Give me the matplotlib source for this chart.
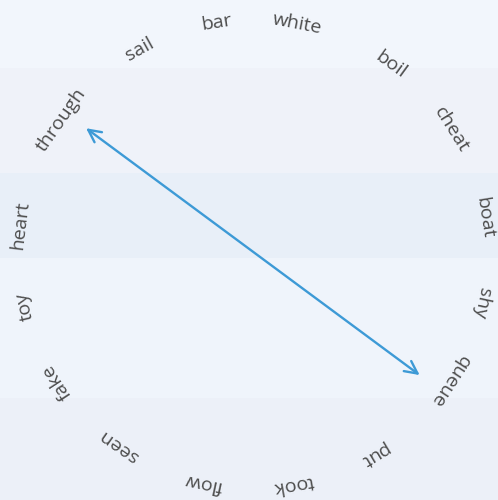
import numpy as np
import matplotlib
matplotlib.use('Agg')
import matplotlib.pyplot as plt
from matplotlib.patches import Rectangle

# words around the circle, clockwise from the top
words = ['bar', 'white', 'boil', 'cheat', 'boat', 'shy', 'queue', 'put',
         'took', 'flow', 'seen', 'fake', 'toy', 'heart', 'through', 'sail']
# angle of each word, degrees clockwise from 12 o'clock
angles = [-9, 11, 36, 58, 81, 102, 123, 149,
          170, 192, 215, 237, 257, 277, 305, 331]
# the arrow links these two words
arrow_from = 'through'
arrow_to = 'queue'

cx, cy, r = 253, 254, 234

fig = plt.figure(figsize=(4.98, 5.0), dpi=100)
ax = fig.add_axes([0, 0, 1, 1])
ax.set_xlim(0, 498)
ax.set_ylim(500, 0)
ax.axis('off')
fig.patch.set_facecolor('#eef3fa')

# faint scanned-table look in the background
for y0, h, c in [(0, 68, '#f2f6fc'), (68, 105, '#eff2f9'), (173, 85, '#e8eff8'),
                 (258, 140, '#eff4fb'), (398, 102, '#ecf0f8')]:
    ax.add_patch(Rectangle((0, y0), 498, h, color=c, zorder=0, lw=0))

def pos(a, rad):
    t = np.radians(a)
    return cx + rad * np.sin(t), cy - rad * np.cos(t)

for w, a in zip(words, angles):
    x, y = pos(a, r)
    ax.text(x, y, w, rotation=-a, rotation_mode='anchor', ha='center', va='center',
            fontsize=14, family='Open Sans', color='#4d4d4d')

a1 = angles[words.index(arrow_from)]
a2 = angles[words.index(arrow_to)]
p1 = pos(a1 + 2, r - 25)
p2 = pos(a2 + 3, r - 28)
ax.annotate('', xy=p2, xytext=p1,
            arrowprops=dict(arrowstyle='<->,head_length=0.9,head_width=0.45',
                            color='#3d9ad6', lw=1.7, shrinkA=0, shrinkB=0))

fig.savefig('out.png', dpi=100, facecolor=fig.get_facecolor())
